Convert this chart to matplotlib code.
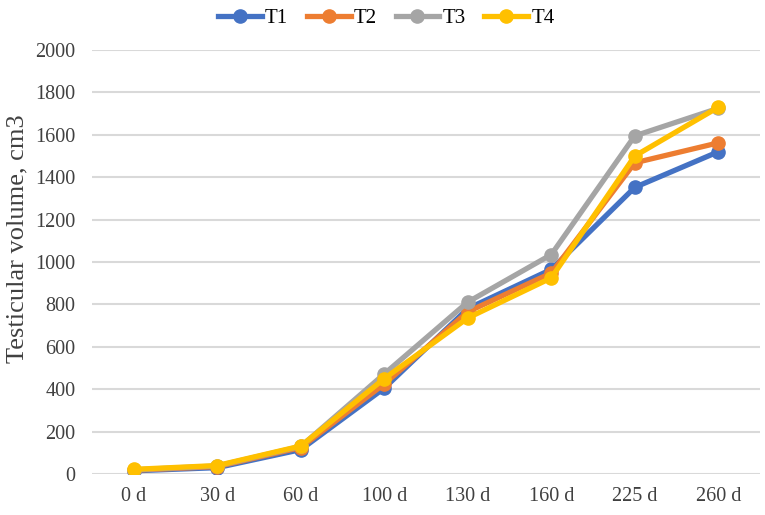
import matplotlib.pyplot as plt
import numpy as np

days = ["0 d", "30 d", "60 d", "100 d", "130 d", "160 d", "225 d", "260 d"]
t1 = [15, 30, 115, 405, 780, 965, 1352, 1520]
t2 = [18, 35, 125, 425, 765, 948, 1468, 1562]
t3 = [20, 38, 130, 472, 811, 1035, 1595, 1725]
t4 = [22, 40, 132, 450, 736, 925, 1500, 1730]

series = [("T1", t1, "#4472C4"), ("T2", t2, "#ED7D31"),
          ("T3", t3, "#A5A5A5"), ("T4", t4, "#FFC000")]

plt.rcParams['font.family'] = ['Liberation Serif', 'DejaVu Serif']

fig = plt.figure(figsize=(7.65, 5.15), dpi=100)
ax = fig.add_axes([0.1203, 0.0796, 0.8732, 0.8233])

x = np.arange(len(days))
for name, vals, col in series:
    ax.plot(x, vals, color=col, lw=3.8, marker='o', ms=9.5, label=name)

ax.set_xlim(-0.5, len(days) - 0.5)
ax.set_ylim(0, 2000)
ax.set_yticks(range(0, 2001, 200))
ax.set_xticks(x)
ax.set_xticklabels(days)
ax.tick_params(axis='both', length=0, labelsize=14.5, colors='#404040')
ax.tick_params(axis='y', pad=12)
ax.tick_params(axis='x', pad=9)
ax.grid(axis='y', color='#d9d9d9', lw=1.5)
ax.set_axisbelow(True)
for s in ax.spines.values():
    s.set_visible(False)
ax.set_ylabel('Testicular volume, cm3', fontsize=19, color='#404040')
ax.yaxis.set_label_coords(-0.095, 0.555)

fig.legend(loc='upper center', bbox_to_anchor=(0.505, 1.02), ncol=4, frameon=False,
           fontsize=15, handlelength=2.1, columnspacing=0.9, handletextpad=0.15)

fig.savefig('out.png', dpi=100)
